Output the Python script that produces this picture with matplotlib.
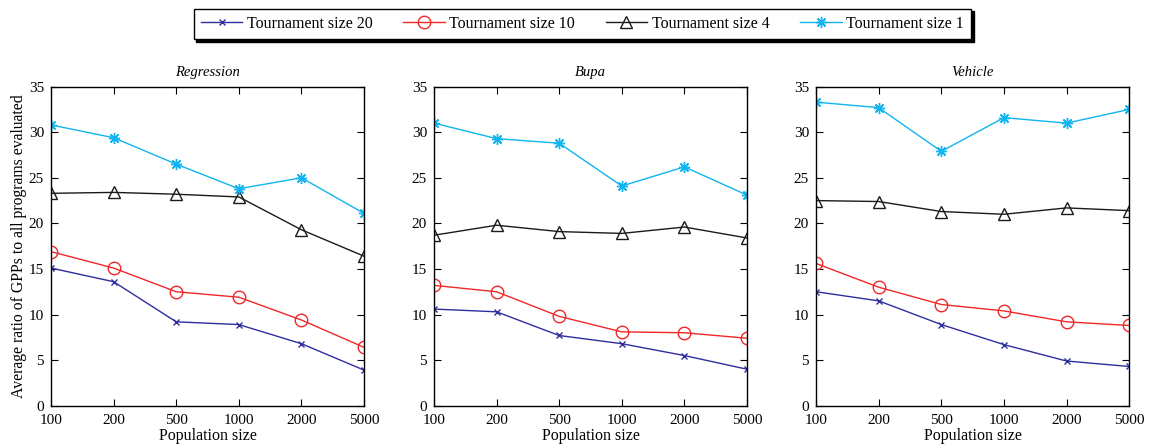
import numpy as np
import matplotlib.pyplot as plt

plt.rcParams['font.family'] = ['Liberation Serif', 'DejaVu Serif']

# 데이터
pop_sizes = ['100', '200', '500', '1000', '2000', '5000']
titles = ['Regression', 'Bupa', 'Vehicle']
labels = ['Tournament size 20', 'Tournament size 10', 'Tournament size 4', 'Tournament size 1']

reg_t20 = [15.1, 13.6, 9.2, 8.9, 6.8, 3.9]
reg_t10 = [16.9, 15.1, 12.5, 11.9, 9.4, 6.4]
reg_t4 = [23.3, 23.4, 23.2, 22.9, 19.3, 16.4]
reg_t1 = [30.8, 29.4, 26.5, 23.8, 25.0, 21.1]

bupa_t20 = [10.6, 10.3, 7.7, 6.8, 5.5, 4.0]
bupa_t10 = [13.2, 12.5, 9.8, 8.1, 8.0, 7.4]
bupa_t4 = [18.7, 19.8, 19.1, 18.9, 19.6, 18.4]
bupa_t1 = [31.0, 29.3, 28.8, 24.1, 26.2, 23.1]

veh_t20 = [12.5, 11.5, 8.9, 6.7, 4.9, 4.3]
veh_t10 = [15.6, 13.0, 11.1, 10.4, 9.2, 8.8]
veh_t4 = [22.5, 22.4, 21.3, 21.0, 21.7, 21.4]
veh_t1 = [33.3, 32.7, 27.9, 31.6, 31.0, 32.5]

all_data = [
    [reg_t20, reg_t10, reg_t4, reg_t1],
    [bupa_t20, bupa_t10, bupa_t4, bupa_t1],
    [veh_t20, veh_t10, veh_t4, veh_t1],
]

colors = ['#2e2e9e', '#f02828', '#1a1a1a', '#10b4ee']
markers = ['x', 'o', '^', (8, 2, 0)]  # 마지막은 별표(asterisk)
msizes = [5, 9, 9, 8]

fig = plt.figure(figsize=(11.51, 4.44), dpi=100)
lefts = [0.0443, 0.377, 0.709]
x = np.arange(len(pop_sizes))

handles = []
for k in range(3):
    ax = fig.add_axes([lefts[k], 0.0863, 0.272, 0.7185])
    for j in range(4):
        h, = ax.plot(x, all_data[k][j], color=colors[j], marker=markers[j], ms=msizes[j],
                     mfc='none', mec=colors[j], lw=1.0, mew=1.0, label=labels[j])
        if k == 0:
            handles.append(h)
    ax.set_xlim(0, 5)
    ax.set_ylim(0, 35)
    ax.set_xticks(x)
    ax.set_xticklabels(pop_sizes)
    ax.set_yticks(np.arange(0, 36, 5))
    ax.tick_params(direction='in', top=True, right=True, labelsize=11, length=5)
    ax.tick_params(axis='x', pad=6)
    ax.tick_params(axis='y', pad=5)
    ax.set_xlabel('Population size', fontsize=11.5, labelpad=1)
    ax.set_title(titles[k], fontsize=10.5, style='italic', pad=8)
    for s in ax.spines.values():
        s.set_linewidth(1.0)
    if k == 0:
        ax.set_ylabel('Average ratio of GPPs to all programs evaluated', fontsize=11.3, labelpad=1)

leg = fig.legend(handles=handles, loc='upper center', bbox_to_anchor=(0.506, 0.988), ncol=4,
                 fontsize=11.5, frameon=True, fancybox=False, edgecolor='black',
                 handlelength=2.6, columnspacing=1.9, borderpad=0.45, handletextpad=0.3,
                 borderaxespad=0.2,
                 shadow={'ox': 2, 'oy': -2, 'color': 'black', 'alpha': 1})
leg.get_frame().set_linewidth(1.0)

fig.savefig('out.png', dpi=100)
